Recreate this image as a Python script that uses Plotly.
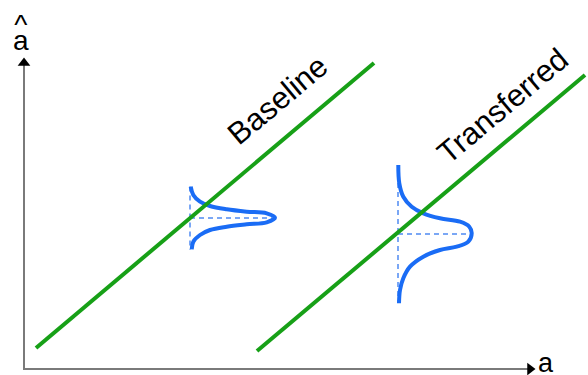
import plotly.graph_objects as go

# Coordinates in chart units: a (horizontal), a-hat (vertical); origin at the axis corner
baseline_a = [12, 350]
baseline_ahat = [21, 306]
transferred_a = [233, 561]
transferred_ahat = [18, 294]

# Baseline distribution curve
base_dist_a = [166.7, 169.3, 176, 186, 202.7, 222.7, 242.7, 251, 242.7, 222.7, 202.7, 186, 176, 169.3, 167.7]
base_dist_ahat = [182.3, 174, 167.3, 163, 159.7, 157.3, 155.7, 151.3, 146.7, 144.7, 142.3, 139, 134, 127.3, 119.7]
base_center = (166, 151)
base_vert = [182.5, 119]
base_horiz_end = 248

# Transferred distribution curve
tr_dist_a = [374.3, 375.3, 379.3, 387.7, 399.3, 416, 436, 445.3, 447.7, 444.3, 432.7, 416, 399.3, 386, 379.3, 376, 375]
tr_dist_ahat = [204, 185.7, 172.3, 162.3, 155.7, 150.7, 147.3, 142.3, 135.7, 127.3, 122.3, 119, 112.3, 102.3, 90.7, 79, 65.7]
tr_center = (374, 135)
tr_vert = [204, 66]
tr_horiz_end = 444

# Axes extents
x_axis_end = 511
y_axis_end = 311

GREEN = "#17a017"
BLUE = "#1a6cf5"
DASH_BLUE = "#4f8bf2"
AXIS = "#7a7a7a"
FONT = "Arial, Liberation Sans, sans-serif"

fig = go.Figure()

# axes
fig.add_trace(go.Scatter(x=[0, 0, x_axis_end - 6], y=[y_axis_end - 6, 0, 0], mode="lines",
                         line=dict(color=AXIS, width=2), hoverinfo="skip"))
fig.add_trace(go.Scatter(x=[0], y=[y_axis_end - 5], mode="markers",
                         marker=dict(symbol="triangle-up", size=11, color="black"), hoverinfo="skip"))
fig.add_trace(go.Scatter(x=[x_axis_end - 5], y=[0], mode="markers",
                         marker=dict(symbol="triangle-right", size=11, color="black"), hoverinfo="skip"))

# dashed guides
for (ca, ch), vert, hend in [(base_center, base_vert, base_horiz_end), (tr_center, tr_vert, tr_horiz_end)]:
    fig.add_trace(go.Scatter(x=[ca, ca], y=vert, mode="lines",
                             line=dict(color=DASH_BLUE, width=1.5, dash="5px,4px"), hoverinfo="skip"))
    fig.add_trace(go.Scatter(x=[ca, hend], y=[ch, ch], mode="lines",
                             line=dict(color=DASH_BLUE, width=1.5, dash="5px,4px"), hoverinfo="skip"))

# distribution curves
fig.add_trace(go.Scatter(x=base_dist_a, y=base_dist_ahat, mode="lines",
                         line=dict(color=BLUE, width=4, shape="spline", smoothing=1.0), hoverinfo="skip"))
fig.add_trace(go.Scatter(x=tr_dist_a, y=tr_dist_ahat, mode="lines",
                         line=dict(color=BLUE, width=4, shape="spline", smoothing=1.0), hoverinfo="skip"))

# green lines
fig.add_trace(go.Scatter(x=baseline_a, y=baseline_ahat, mode="lines",
                         line=dict(color=GREEN, width=4), hoverinfo="skip"))
fig.add_trace(go.Scatter(x=transferred_a, y=transferred_ahat, mode="lines",
                         line=dict(color=GREEN, width=4), hoverinfo="skip"))

ahat_label = ('<span style="font-size:28px">^</span><br>'
              '<span style="font-size:28px">a</span>')

annotations = [
    dict(x=253, y=269, text="Baseline", textangle=-40, font=dict(size=31, color="black", family=FONT)),
    dict(x=478, y=263, text="Transferred", textangle=-40, font=dict(size=31, color="black", family=FONT)),
    dict(x=522, y=6, text="a", font=dict(size=27, color="black", family=FONT)),
    dict(x=-3.5, y=336.5, text=ahat_label, font=dict(size=12.5, color="black", family=FONT)),
]
for an in annotations:
    an.update(xref="x", yref="y", showarrow=False, xanchor="center", yanchor="middle")

fig.update_layout(
    width=588, height=375,
    margin=dict(l=0, r=0, t=0, b=0),
    paper_bgcolor="white", plot_bgcolor="white",
    showlegend=False,
    xaxis=dict(range=[-24, 564], visible=False, fixedrange=True),
    yaxis=dict(range=[-6, 369], visible=False, fixedrange=True),
    annotations=annotations,
)

fig.write_html(
    "out.html",
    config={"displayModeBar": False},
    post_script="document.body.style.margin='0';document.body.style.overflow='hidden';",
)
